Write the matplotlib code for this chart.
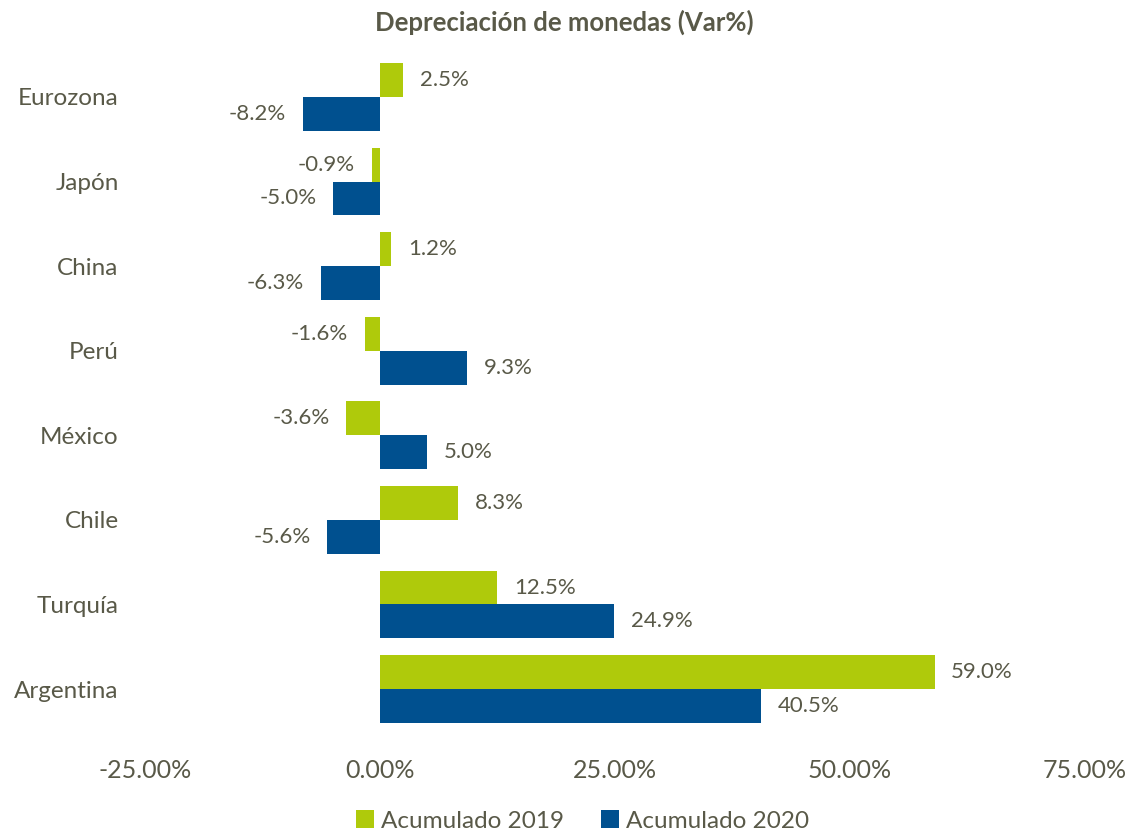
import matplotlib
matplotlib.use("Agg")
from matplotlib import pyplot as plt
from matplotlib.ticker import FuncFormatter
import numpy as np

# datos
paises = ['Eurozona', 'Japón', 'China', 'Perú', 'México', 'Chile', 'Turquía', 'Argentina']
acum_2019 = [2.5, -0.9, 1.2, -1.6, -3.6, 8.3, 12.5, 59.0]
acum_2020 = [-8.2, -5.0, -6.3, 9.3, 5.0, -5.6, 24.9, 40.5]

verde = '#AFCA0B'
azul = '#00508F'
gris = '#595948'

plt.rcParams['font.family'] = ['Lato', 'DejaVu Sans']

fig = plt.figure(figsize=(11.29, 8.36), dpi=100)
ax = fig.add_axes([0.1284, 0.1252, 0.8326, 0.8094])

y = np.arange(len(paises))
h = 0.4
b1 = ax.barh(y - h / 2, acum_2019, height=h, color=verde, label='Acumulado 2019')
b2 = ax.barh(y + h / 2, acum_2020, height=h, color=azul, label='Acumulado 2020')

# etiquetas de valores
for bars, vals in ((b1, acum_2019), (b2, acum_2020)):
    for bar, v in zip(bars, vals):
        yc = bar.get_y() + bar.get_height() / 2
        if v >= 0:
            ax.annotate(f'{v:.1f}%', (v, yc), xytext=(12, 0), textcoords='offset points',
                        ha='left', va='center', fontsize=16, color=gris)
        else:
            ax.annotate(f'{v:.1f}%', (v, yc), xytext=(-12, 0), textcoords='offset points',
                        ha='right', va='center', fontsize=16, color=gris)

ax.set_xlim(-25, 75)
ax.set_ylim(len(paises) - 0.5, -0.5)
ax.set_xticks([-25, 0, 25, 50, 75])
ax.xaxis.set_major_formatter(FuncFormatter(lambda x, p: f'{x:.2f}%'))
ax.set_yticks(y)
ax.set_yticklabels(paises)
ax.tick_params(axis='x', length=0, labelsize=18, colors=gris, pad=20)
ax.tick_params(axis='y', length=0, labelsize=17.5, colors=gris, pad=19)
for s in ax.spines.values():
    s.set_visible(False)

fig.suptitle('Depreciación de monedas (Var%)', y=0.988, fontsize=18.5, fontweight='bold', color=gris)

leg = fig.legend(handles=[b1, b2], loc='lower center', bbox_to_anchor=(0.516, -0.021), ncol=2,
                 frameon=False, fontsize=17.5, handlelength=0.75, handleheight=0.75,
                 handletextpad=0.3, columnspacing=1.5)
for t in leg.get_texts():
    t.set_color(gris)

fig.savefig('out.png', dpi=100)
